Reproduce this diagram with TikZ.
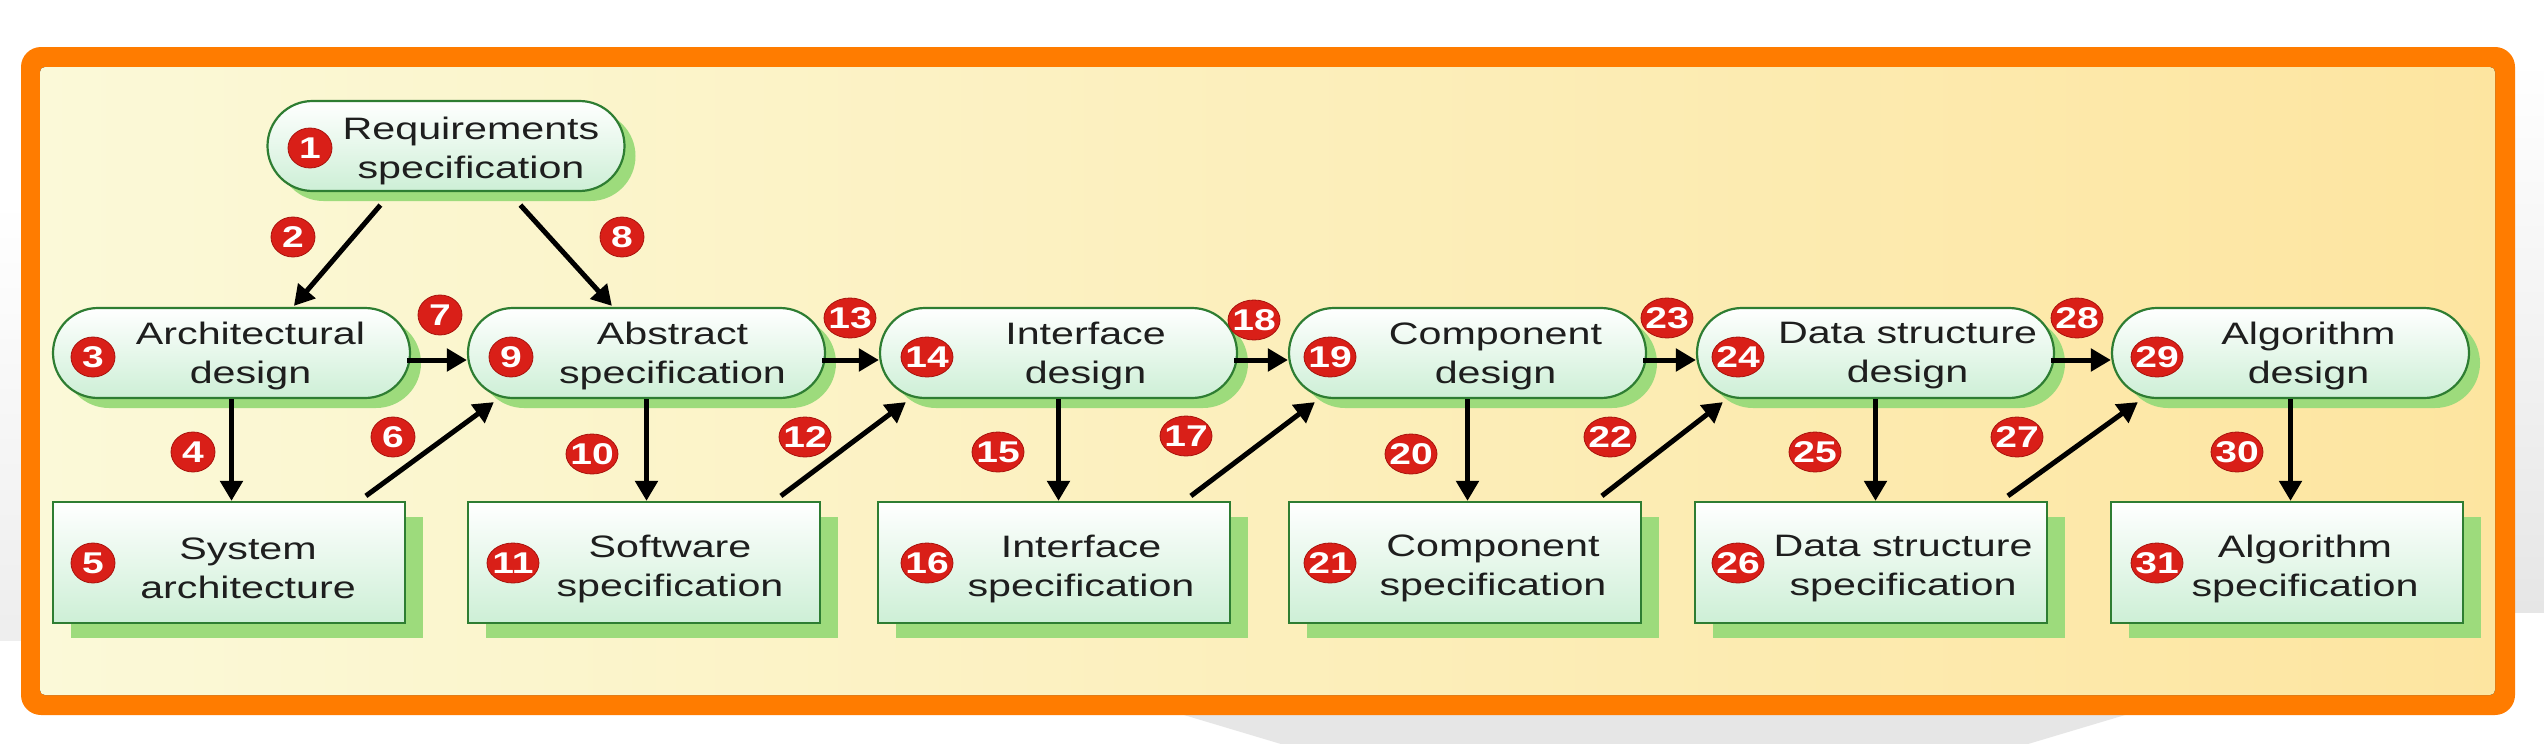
\documentclass[tikz,border=0pt]{standalone}
\usepackage{fontspec}
\newfontfamily\lblfont{Liberation Sans}[FakeStretch=1.33]
\newfontfamily\numfont{Liberation Sans}[FakeStretch=1.3]
\usetikzlibrary{arrows.meta,shapes.geometric,shadows}
\definecolor{frameorange}{HTML}{FF7C00}
\definecolor{bgleft}{HTML}{FBF9D8}
\definecolor{bgright}{HTML}{FDE5A0}
\definecolor{bordergreen}{HTML}{2E7D32}
\definecolor{shadowgreen}{HTML}{9DDB7C}
\definecolor{mint}{HTML}{CDEFD6}
\definecolor{badgered}{HTML}{D91F18}
\definecolor{badgedark}{HTML}{A8120C}
\definecolor{textdark}{HTML}{1E1E1E}
\definecolor{margingray}{HTML}{E6E6E6}
\begin{document}
\begin{tikzpicture}[x=1pt,y=-1pt,
  pill/.style={draw=bordergreen, line width=2.2pt, rounded corners=45pt,
    minimum width=357pt, minimum height=90pt, inner sep=0pt,
    top color=white, bottom color=mint,
    general shadow={fill=shadowgreen, shadow xshift=11pt, shadow yshift=-10pt}},
  specbox/.style={draw=bordergreen, line width=2.2pt,
    minimum width=352pt, minimum height=121pt, inner sep=0pt,
    top color=white, bottom color=mint,
    general shadow={fill=shadowgreen, shadow xshift=18pt, shadow yshift=-15pt}},
  lbl/.style={font=\lblfont\fontsize{31}{39}\selectfont, align=center,
    text=textdark, inner sep=0pt},
  badge/.style={ellipse, fill=badgered, draw=badgedark, line width=0.8pt,
    inner xsep=-5pt, inner ysep=-2pt, minimum width=44pt, minimum height=40pt,
    text=white, font=\numfont\bfseries\fontsize{30}{30}\selectfont},
  wide/.style={minimum width=52pt},
  flow/.style={line width=5pt, -{Triangle[length=20pt,width=22pt]}},
]
% background and frame
\path[use as bounding box, fill=white] (0,0) rectangle (2544,744);
\fill[top color=white, bottom color=margingray] (2515,60) rectangle (2544,612);
\fill[top color=white, bottom color=margingray!70] (0,200) rectangle (21,640);
\fill[margingray] (1184,715) -- (2125,715) -- (2028,744) -- (1281,744) -- cycle;
\fill[frameorange, rounded corners=20pt] (21,47) rectangle (2515,715);
\fill[left color=bgleft, right color=bgright, rounded corners=5pt] (40,67) rectangle (2495,695);

% top node
\node[pill] (req) at (446,146) {};
\node[lbl] (reqt) at ([xshift=25pt,yshift=-5pt]req.center) {Requirements\\specification};

% design row (pills)
\node[pill] (p0) at (231.5,353) {};
\node[pill] (p1) at (646.5,353) {};
\node[pill] (p2) at (1058.5,353) {};
\node[pill] (p3) at (1467.5,353) {};
\node[pill] (p4) at (1875.5,353) {};
\node[pill] (p5) at (2290.5,353) {};
\node[lbl] (p0t) at ([xshift=19pt,yshift=-3pt]p0.center) {Architectural\\design};
\node[lbl] (p1t) at ([xshift=26pt,yshift=-3pt]p1.center) {Abstract\\specification};
\node[lbl] (p2t) at ([xshift=27pt,yshift=-3pt]p2.center) {Interface\\design};
\node[lbl] (p3t) at ([xshift=28pt,yshift=-3pt]p3.center) {Component\\design};
\node[lbl] (p4t) at ([xshift=32pt,yshift=-3pt]p4.center) {Data structure\\design};
\node[lbl] (p5t) at ([xshift=18pt,yshift=-3pt]p5.center) {Algorithm\\design};

% specification row (boxes)
\node[specbox] (b0) at (229,562.5) {};
\node[specbox] (b1) at (644,562.5) {};
\node[specbox] (b2) at (1054,562.5) {};
\node[specbox] (b3) at (1465,562.5) {};
\node[specbox] (b4) at (1871,562.5) {};
\node[specbox] (b5) at (2287,562.5) {};
\node[lbl] (b0t) at ([xshift=19pt,yshift=-6pt]b0.center) {System\\architecture};
\node[lbl] (b1t) at ([xshift=26pt,yshift=-6pt]b1.center) {Software\\specification};
\node[lbl] (b2t) at ([xshift=27pt,yshift=-6pt]b2.center) {Interface\\specification};
\node[lbl] (b3t) at ([xshift=28pt,yshift=-6pt]b3.center) {Component\\specification};
\node[lbl] (b4t) at ([xshift=32pt,yshift=-6pt]b4.center) {Data structure\\specification};
\node[lbl] (b5t) at ([xshift=18pt,yshift=-6pt]b5.center) {Algorithm\\specification};

% arrows from requirements
\draw[flow] ([xshift=114pt,yshift=-13pt]req.south west) -- ([xshift=242pt,yshift=1pt]p0.north west);
\draw[flow] ([xshift=254pt,yshift=-13pt]req.south west) -- ([xshift=145pt,yshift=1pt]p1.north west);

% horizontal arrows
\draw[flow] ([xshift=-4pt,yshift=-7pt]p0.east) -- ([yshift=-7pt]p1.west);
\draw[flow] ([xshift=-4pt,yshift=-7pt]p1.east) -- ([yshift=-7pt]p2.west);
\draw[flow] ([xshift=-4pt,yshift=-7pt]p2.east) -- ([yshift=-7pt]p3.west);
\draw[flow] ([xshift=-4pt,yshift=-7pt]p3.east) -- ([yshift=-7pt]p4.west);
\draw[flow] ([xshift=-4pt,yshift=-7pt]p4.east) -- ([yshift=-7pt]p5.west);

% down arrows
\draw[flow] (p0.south) -- (p0.south |- b0.north);
\draw[flow] (p1.south) -- (p1.south |- b1.north);
\draw[flow] (p2.south) -- (p2.south |- b2.north);
\draw[flow] (p3.south) -- (p3.south |- b3.north);
\draw[flow] (p4.south) -- (p4.south |- b4.north);
\draw[flow] (p5.south) -- (p5.south |- b5.north);

% diagonal arrows
\draw[flow] ([xshift=314pt,yshift=5pt]b0.north west) -- ([xshift=27pt,yshift=-3pt]p1.south west);
\draw[flow] ([xshift=314pt,yshift=5pt]b1.north west) -- ([xshift=27pt,yshift=-3pt]p2.south west);
\draw[flow] ([xshift=314pt,yshift=5pt]b2.north west) -- ([xshift=27pt,yshift=-3pt]p3.south west);
\draw[flow] ([xshift=314pt,yshift=5pt]b3.north west) -- ([xshift=27pt,yshift=-3pt]p4.south west);
\draw[flow] ([xshift=314pt,yshift=5pt]b4.north west) -- ([xshift=27pt,yshift=-3pt]p5.south west);

% number badges
\node[badge] (n1) at (310,148) {1};
\node[badge] (n2) at (293,237) {2};
\node[badge] (n8) at (622,237) {8};
\node[badge] (n3) at (93,357) {3};
\node[badge] (n9) at (511,357) {9};
\node[badge,wide] (n14) at (927,357) {14};
\node[badge,wide] (n19) at (1330,357) {19};
\node[badge,wide] (n24) at (1738,357) {24};
\node[badge,wide] (n29) at (2157,357) {29};
\node[badge] (n5) at (93,563) {5};
\node[badge,wide] (n11) at (513,563) {11};
\node[badge,wide] (n16) at (927,563) {16};
\node[badge,wide] (n21) at (1330,563) {21};
\node[badge,wide] (n26) at (1738,563) {26};
\node[badge,wide] (n31) at (2157,563) {31};
\node[badge] (n4) at (193,452) {4};
\node[badge,wide] (n10) at (592,454) {10};
\node[badge,wide] (n15) at (998,452) {15};
\node[badge,wide] (n20) at (1411,454) {20};
\node[badge,wide] (n25) at (1815,452) {25};
\node[badge,wide] (n30) at (2237,452) {30};
\node[badge] (n6) at (393,437) {6};
\node[badge,wide] (n12) at (805,437) {12};
\node[badge,wide] (n17) at (1186,436) {17};
\node[badge,wide] (n22) at (1610,437) {22};
\node[badge,wide] (n27) at (2017,437) {27};
\node[badge] (n7) at (440,315) {7};
\node[badge,wide] (n13) at (850,318) {13};
\node[badge,wide] (n18) at (1254,320) {18};
\node[badge,wide] (n23) at (1667,318) {23};
\node[badge,wide] (n28) at (2077,318) {28};
\end{tikzpicture}
\end{document}
